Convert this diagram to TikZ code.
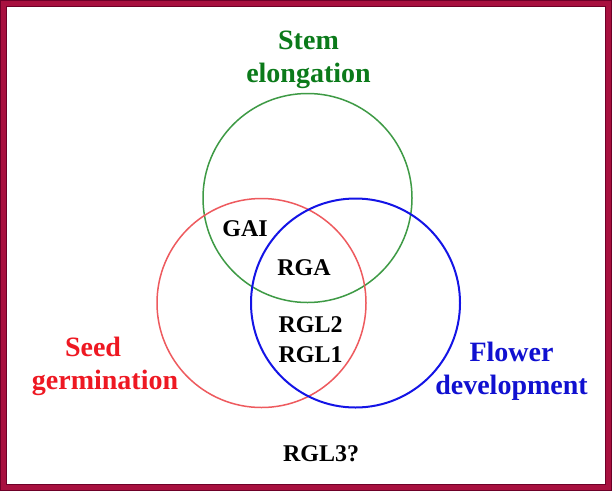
\documentclass[tikz,border=0pt]{standalone}
\usepackage{fontspec}
\setmainfont{Liberation Serif}
\usetikzlibrary{positioning}
\definecolor{vgreen}{HTML}{3E9A45}
\definecolor{vgreentxt}{HTML}{0B7A1A}
\definecolor{vred}{HTML}{EE5A5E}
\definecolor{vredtxt}{HTML}{EE1822}
\definecolor{vblue}{HTML}{1414E6}
\definecolor{vbluetxt}{HTML}{1010D0}
\definecolor{vframe}{HTML}{A8103F}
\definecolor{vframedark}{HTML}{6E0028}

\begin{document}
\begin{tikzpicture}[
  x=1pt, y=-1pt,
  setcircle/.style={circle, draw, inner sep=0pt, minimum size=209pt},
  hdrlabel/.style={font=\fontsize{28}{33}\selectfont\bfseries, align=center, inner sep=0pt},
  genelabel/.style={font=\fontsize{24}{30}\selectfont\bfseries, align=center, inner sep=0pt, text=black},
]
\useasboundingbox (0,0) rectangle (612,491);
\fill[white] (0,0) rectangle (612,491);
\draw[vframe, line width=6.5pt] (3.25,3.25) rectangle (608.75,487.75);
\draw[vframedark, line width=1.2pt] (0.6,0.6) rectangle (611.4,490.4);
\draw[vframedark, line width=0.8pt] (6.5,6.5) rectangle (605.5,484.5);

% the three sets
\node[setcircle, draw=vgreen, line width=1.5pt] (stem) at (307.5,198) {};
\node[setcircle, draw=vred, line width=1.5pt] (seed) at (261.5,303) {};
\node[setcircle, draw=vblue, line width=2pt] (flower) at (355.5,303) {};

% set titles
\node[hdrlabel, text=vgreentxt] (stemlbl) at (308.5,60) {Stem\\elongation};
\node[hdrlabel, text=vredtxt] (seedlbl) at (105,366) {Seed\hspace*{24pt}\\germination};
\node[hdrlabel, text=vbluetxt] (flowerlbl) at (511.5,371) {Flower\\development};

% genes
\node[genelabel, anchor=base] (gai) at (245,236.5) {GAI};
\node[genelabel, anchor=base] (rga) at (304,275) {RGA};
\node[genelabel] (rgl) at (310.5,340) {RGL2\\RGL1};
\node[genelabel, anchor=base] (rgl3) at (321,461) {RGL3?};
\end{tikzpicture}
\end{document}
